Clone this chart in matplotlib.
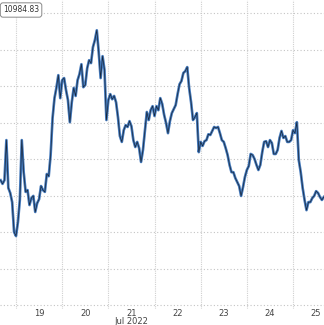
import matplotlib
matplotlib.use('Agg')
import matplotlib.pyplot as plt
import matplotlib.dates as mdates
import pandas as pd

# hourly closes, starting Jul 18 16:00
start = '2022-07-18 16:00'
closes = [
    11142, 11132, 11142, 11252, 11121, 11107, 11082, 11000, 10989, 11027,
    11088, 11252, 11164, 11110, 11115, 11074, 11093, 11099, 11055, 11079,
    11090, 11126, 11115, 11110, 11159, 11153, 11211, 11312, 11367, 11395,
    11430, 11367, 11416, 11422, 11389, 11362, 11301, 11356, 11395, 11373,
    11416, 11433, 11460, 11397, 11403, 11449, 11471, 11463, 11507, 11526,
    11553, 11493, 11422, 11482, 11444, 11307, 11362, 11378, 11364, 11373,
    11356, 11315, 11263, 11247, 11279, 11293, 11288, 11304, 11290, 11252,
    11233, 11247, 11230, 11192, 11225, 11277, 11329, 11307, 11334, 11345,
    11318, 11345, 11334, 11367, 11351, 11321, 11299, 11271, 11304, 11326,
    11337, 11348, 11378, 11405, 11414, 11436, 11441, 11452, 11395, 11356,
    11307, 11315, 11326, 11219, 11247, 11236, 11249, 11252, 11268, 11266,
    11277, 11288, 11285, 11288, 11271, 11252, 11247, 11230, 11211, 11184,
    11164, 11164, 11148, 11137, 11126, 11099, 11123, 11151, 11170, 11181,
    11214, 11211, 11200, 11184, 11170, 11184, 11219, 11247, 11249, 11233,
    11252, 11244, 11214, 11214, 11225, 11258, 11277, 11258, 11263, 11247,
    11247, 11252, 11279, 11271, 11301, 11197, 11164, 11121, 11088, 11060,
    11082, 11082, 11093, 11099, 11112, 11107, 11096, 11088, 11096,
]
day_labels = ['19', '20', '21', '22', '23', '24', '25']
last_label = '10984.83'

times = pd.date_range(start, periods=len(closes), freq='h')

fig = plt.figure(figsize=(3.24, 3.25), dpi=100)
ax = fig.add_axes([0, 16 / 325, 1, 309 / 325])

ax.plot(times, closes, color='#4479bb', lw=1.9)
ax.plot(times, closes, color='#0e1520', lw=0.5, alpha=0.85)

ax.set_xlim(pd.Timestamp('2022-07-18 15:41'), pd.Timestamp('2022-07-25 16:06'))
ax.set_ylim(10789, 11636)

noons = pd.date_range('2022-07-19 12:00', periods=7, freq='D')
ax.set_xticks(noons)
ax.set_xticklabels(day_labels)
ax.xaxis.set_minor_locator(mdates.DayLocator())
ax.set_yticks(range(10800, 11700, 100))
ax.tick_params(axis='x', which='both', length=0, labelsize=6, colors='#444444', pad=0)
ax.tick_params(axis='y', length=0, labelleft=False)

ax.grid(False)
ax.grid(axis='y', which='major', color='#c4c4c4', lw=0.8, linestyle=(0, (1, 2)))
ax.grid(axis='x', which='minor', color='#d0d0d0', lw=0.8, linestyle=(0, (1, 1)))
for s in ax.spines.values():
    s.set_visible(False)

ax.text(pd.Timestamp('2022-07-21 12:00'), -13 / 309, 'Jul 2022', transform=ax.get_xaxis_transform(),
        ha='center', va='center', fontsize=6, color='#444444')

fig.text(3 / 324, 1 - 10 / 325, last_label, ha='left', va='center', fontsize=5.5, color='#333333',
         bbox=dict(boxstyle='round,pad=0.35', fc='white', ec='#888888', lw=0.7))

fig.savefig('out.png', dpi=100)
